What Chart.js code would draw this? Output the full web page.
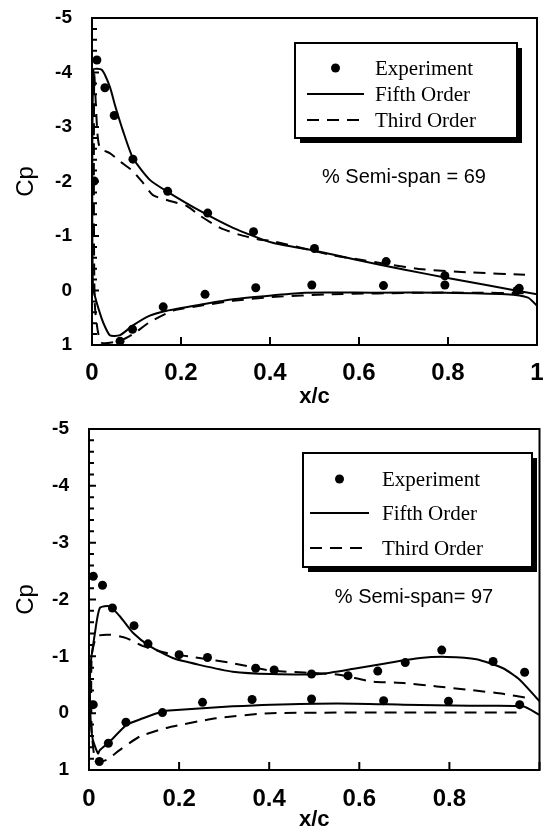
<!DOCTYPE html>
<html>
<head>
<meta charset="utf-8">
<script src="https://cdn.jsdelivr.net/npm/chart.js@4"></script>
<style>
  body { margin: 0; background: #fff; }
  #wrap { position: relative; width: 544px; height: 831px; }
  canvas { position: absolute; left: 0; }
  #c1 { top: 0; }
  #c2 { top: 410px; }
</style>
</head>
<body>
<div id="wrap">
  <canvas id="c1" width="544" height="410"></canvas>
  <canvas id="c2" width="544" height="421"></canvas>
</div>
<script>
// tick labels
var xTicks = [0, 0.2, 0.4, 0.6, 0.8, 1];
var yTicks = [-5, -4, -3, -2, -1, 0, 1];
var seriesNames = ["Experiment", "Fifth Order", "Third Order"];

// % semi-span = 69
var exp69X = [0.005, 0.011, 0.029, 0.05, 0.092, 0.17, 0.26, 0.363, 0.50, 0.661, 0.793, 0.96,
              0.063, 0.091, 0.16, 0.254, 0.368, 0.494, 0.655, 0.793, 0.955];
var exp69Cp = [-2.01, -4.23, -3.72, -3.21, -2.41, -1.82, -1.42, -1.08, -0.77, -0.53, -0.27, -0.04,
               0.93, 0.71, 0.30, 0.07, -0.05, -0.10, -0.09, -0.10, 0.0];
var fifth69X = [1.0, 0.98, 0.93, 0.793, 0.63, 0.479, 0.404, 0.317, 0.243, 0.168, 0.13, 0.092, 0.063, 0.04, 0.022, 0.002,
                0.003, 0.022, 0.04, 0.052, 0.07, 0.092, 0.13, 0.168, 0.243, 0.317, 0.404, 0.501, 0.591, 0.703, 0.793, 0.892, 1.0];
var fifth69Cp = [0.28, 0.13, 0.07, 0.04, 0.04, 0.04, 0.09, 0.16, 0.26, 0.37, 0.46, 0.64, 0.82, 0.82, 0.52, -0.11,
                 -4.05, -4.05, -3.74, -3.39, -2.92, -2.43, -2.03, -1.82, -1.46, -1.15, -0.88, -0.73, -0.57, -0.38, -0.24, -0.09, 0.07];
var third69X = [0.97, 0.854, 0.742, 0.539, 0.404, 0.317, 0.243, 0.182, 0.13, 0.092, 0.063, 0.02, 0.006,
                0.005, 0.012, 0.018, 0.04, 0.063, 0.092, 0.115, 0.137, 0.168, 0.213, 0.243, 0.288, 0.333, 0.378, 0.404,
                0.543, 0.6, 0.667, 0.742, 0.854, 0.973];
var third69Cp = [0.05, 0.04, 0.04, 0.07, 0.12, 0.19, 0.28, 0.37, 0.58, 0.8, 0.92, 0.95, 0.2,
                 -3.95, -2.9, -2.61, -2.52, -2.37, -2.19, -1.97, -1.75, -1.66, -1.55, -1.37, -1.15, -1.02, -0.93, -0.91,
                 -0.64, -0.57, -0.48, -0.39, -0.33, -0.29];

// % semi-span = 97
var exp97X = [0.0095, 0.03, 0.052, 0.10, 0.131, 0.20, 0.263, 0.37, 0.411, 0.494, 0.575, 0.641, 0.702, 0.783, 0.897, 0.967,
              0.0095, 0.023, 0.043, 0.082, 0.163, 0.252, 0.362, 0.494, 0.654, 0.798, 0.956];
var exp97Cp = [-2.41, -2.25, -1.85, -1.54, -1.22, -1.03, -0.98, -0.79, -0.76, -0.69, -0.66, -0.74, -0.89, -1.11, -0.91, -0.72,
               -0.15, 0.85, 0.53, 0.16, -0.01, -0.19, -0.24, -0.25, -0.22, -0.21, -0.15];
var fifth97X = [1.0, 0.963, 0.845, 0.698, 0.551, 0.404, 0.319, 0.186, 0.163, 0.12, 0.083, 0.046, 0.024, 0.02, 0.008, 0.003,
                0.003, 0.013, 0.024, 0.046, 0.068, 0.098, 0.135, 0.186, 0.245, 0.319, 0.404, 0.514, 0.588, 0.661, 0.735, 0.794,
                0.86, 0.919, 0.956, 1.0];
var fifth97Cp = [0.03, -0.12, -0.13, -0.15, -0.17, -0.15, -0.12, -0.05, -0.03, 0.09, 0.21, 0.50, 0.65, 0.71, 0.45, 0.0,
                 -0.8, -1.4, -1.85, -1.88, -1.71, -1.41, -1.18, -0.97, -0.85, -0.73, -0.69, -0.69, -0.78, -0.88, -0.97, -0.99,
                 -0.95, -0.79, -0.59, -0.21];
var third97X = [0.949, 0.698, 0.404, 0.282, 0.172, 0.113, 0.068, 0.039, 0.015, 0.006,
                0.006, 0.017, 0.046, 0.083, 0.12, 0.172, 0.245, 0.318, 0.404, 0.551, 0.625, 0.698, 0.772, 0.845, 0.919, 0.978];
var third97Cp = [-0.01, -0.01, 0.0, 0.09, 0.26, 0.41, 0.65, 0.82, 0.85, 0.3,
                 -1.0, -1.35, -1.38, -1.32, -1.18, -1.06, -0.97, -0.88, -0.75, -0.68, -0.56, -0.53, -0.47, -0.41, -0.34, -0.26];

function pts(xs, ys) {
    return xs.map(function (v, i) { return {x: v, y: ys[i]}; });
}

// box round the plot, inward ticks
var framePlugin = {
    id: 'frame',
    afterDatasetsDraw: function (chart) {
        var ctx = chart.ctx, a = chart.chartArea, xs = chart.scales.x, ys = chart.scales.y;
        ctx.save();
        ctx.strokeStyle = '#000';
        ctx.lineWidth = 2;
        ctx.strokeRect(a.left, a.top, a.right - a.left, a.bottom - a.top);
        ctx.beginPath();
        xTicks.forEach(function (v) {
            var px = xs.getPixelForValue(v);
            ctx.moveTo(px, a.bottom);
            ctx.lineTo(px, a.bottom - 8);
        });
        for (var i = 0; i <= 30; i++) {
            var py = ys.getPixelForValue(-5 + i * 0.2);
            ctx.moveTo(a.left, py);
            ctx.lineTo(a.left + (i % 5 == 0 ? 7 : 5), py);
        }
        ctx.stroke();
        ctx.restore();
    }
};

// legend box with drop shadow, plus span note
var keyPlugin = {
    id: 'keybox',
    afterDraw: function (chart, args, o) {
        var ctx = chart.ctx;
        ctx.save();
        ctx.fillStyle = '#000';
        ctx.fillRect(o.x + 5, o.y + 5, o.w, o.h);
        ctx.fillStyle = '#fff';
        ctx.fillRect(o.x, o.y, o.w, o.h);
        ctx.strokeStyle = '#000';
        ctx.lineWidth = 2;
        ctx.strokeRect(o.x, o.y, o.w, o.h);
        ctx.font = '21px "Liberation Serif", serif';
        ctx.textBaseline = 'middle';
        ctx.fillStyle = '#000';
        chart.data.datasets.forEach(function (ds, i) {
            var ry = o.y + o.rows[i];
            if (i == 0) {
                ctx.beginPath();
                ctx.arc((o.l0 + o.l1) / 2, ry, 4.5, 0, Math.PI * 2);
                ctx.fill();
            } else {
                ctx.beginPath();
                ctx.lineWidth = 2;
                ctx.setLineDash(ds.borderDash || []);
                ctx.moveTo(o.l0, ry);
                ctx.lineTo(o.l1, ry);
                ctx.stroke();
                ctx.setLineDash([]);
            }
            ctx.fillText(ds.label, o.tx, ry + 1);
        });
        ctx.font = '20px "Liberation Sans", Arial, sans-serif';
        ctx.textAlign = 'center';
        ctx.fillText(o.note, o.nx, o.ny);
        ctx.restore();
    }
};

function noPad(s) {
    s.paddingTop = 0;
    s.paddingBottom = 0;
    s.paddingLeft = 0;
    s.paddingRight = 0;
}

function makeChart(id, expX, expY, fX, fY, tX, tY, lay, key) {
    var ctx = document.getElementById(id).getContext('2d');
    return new Chart(ctx, {
        type: 'line',
        data: {
            datasets: [{
                label: seriesNames[0],
                data: pts(expX, expY),
                showLine: false,
                pointRadius: 4.5,
                pointBackgroundColor: '#000',
                pointBorderWidth: 0
            }, {
                label: seriesNames[1],
                data: pts(fX, fY),
                borderColor: '#000',
                borderWidth: 2,
                pointRadius: 0,
                tension: 0.2
            }, {
                label: seriesNames[2],
                data: pts(tX, tY),
                borderColor: '#000',
                borderWidth: 2,
                borderDash: [12, 8],
                pointRadius: 0,
                tension: 0.2
            }]
        },
        options: {
            responsive: false,
            animation: false,
            layout: {padding: {top: lay.top, right: lay.right, left: 0, bottom: lay.bottom}},
            plugins: {
                legend: {display: false},
                tooltip: {enabled: false},
                keybox: key
            },
            scales: {
                x: {
                    type: 'linear',
                    min: 0,
                    max: 1,
                    afterFit: function (s) { s.height = lay.xh; noPad(s); },
                    afterBuildTicks: function (s) { s.ticks = xTicks.map(function (v) { return {value: v}; }); },
                    grid: {display: false},
                    border: {display: false},
                    ticks: {
                        color: '#000',
                        padding: lay.xpad,
                        maxRotation: 0,
                        font: {family: '"Liberation Sans", Arial, sans-serif', size: 24, weight: 'bold'},
                        callback: function (v) { return (lay.hideOne && v == 1) ? '' : String(v); }
                    },
                    title: {
                        display: true,
                        text: 'x/c',
                        color: '#000',
                        padding: 0,
                        font: {family: '"Liberation Sans", Arial, sans-serif', size: 22, weight: 'bold', lineHeight: 1}
                    }
                },
                y: {
                    type: 'linear',
                    min: -5,
                    max: 1,
                    reverse: true,
                    afterFit: function (s) { s.width = lay.yw; noPad(s); },
                    afterBuildTicks: function (s) { s.ticks = yTicks.map(function (v) { return {value: v}; }); },
                    grid: {display: false},
                    border: {display: false},
                    ticks: {
                        color: '#000',
                        padding: 12,
                        font: {family: '"Liberation Sans", Arial, sans-serif', size: 19, weight: 'bold'}
                    },
                    title: {
                        display: true,
                        text: 'Cp',
                        color: '#000',
                        padding: {top: 14, bottom: 0},
                        font: {family: '"Liberation Sans", Arial, sans-serif', size: 24, lineHeight: 1}
                    }
                }
            }
        },
        plugins: [framePlugin, keyPlugin]
    });
}

var chart1 = makeChart('c1', exp69X, exp69Cp, fifth69X, fifth69Cp, third69X, third69Cp,
    {top: 18, right: 7, bottom: 2, xh: 63, yw: 92, xpad: 6, hideOne: false},
    {x: 295, y: 43, w: 222, h: 95, rows: [25, 51, 77], l0: 307, l1: 364, tx: 375,
     note: '% Semi-span = 69', nx: 404, ny: 177});

var chart2 = makeChart('c2', exp97X, exp97Cp, fifth97X, fifth97Cp, third97X, third97Cp,
    {top: 19, right: 2, bottom: 0, xh: 61, yw: 89, xpad: 7, hideOne: true},
    {x: 303, y: 43, w: 229, h: 114, rows: [26, 60, 95], l0: 310, l1: 369, tx: 382,
     note: '% Semi-span= 97', nx: 414, ny: 187});
</script>
</body>
</html>
